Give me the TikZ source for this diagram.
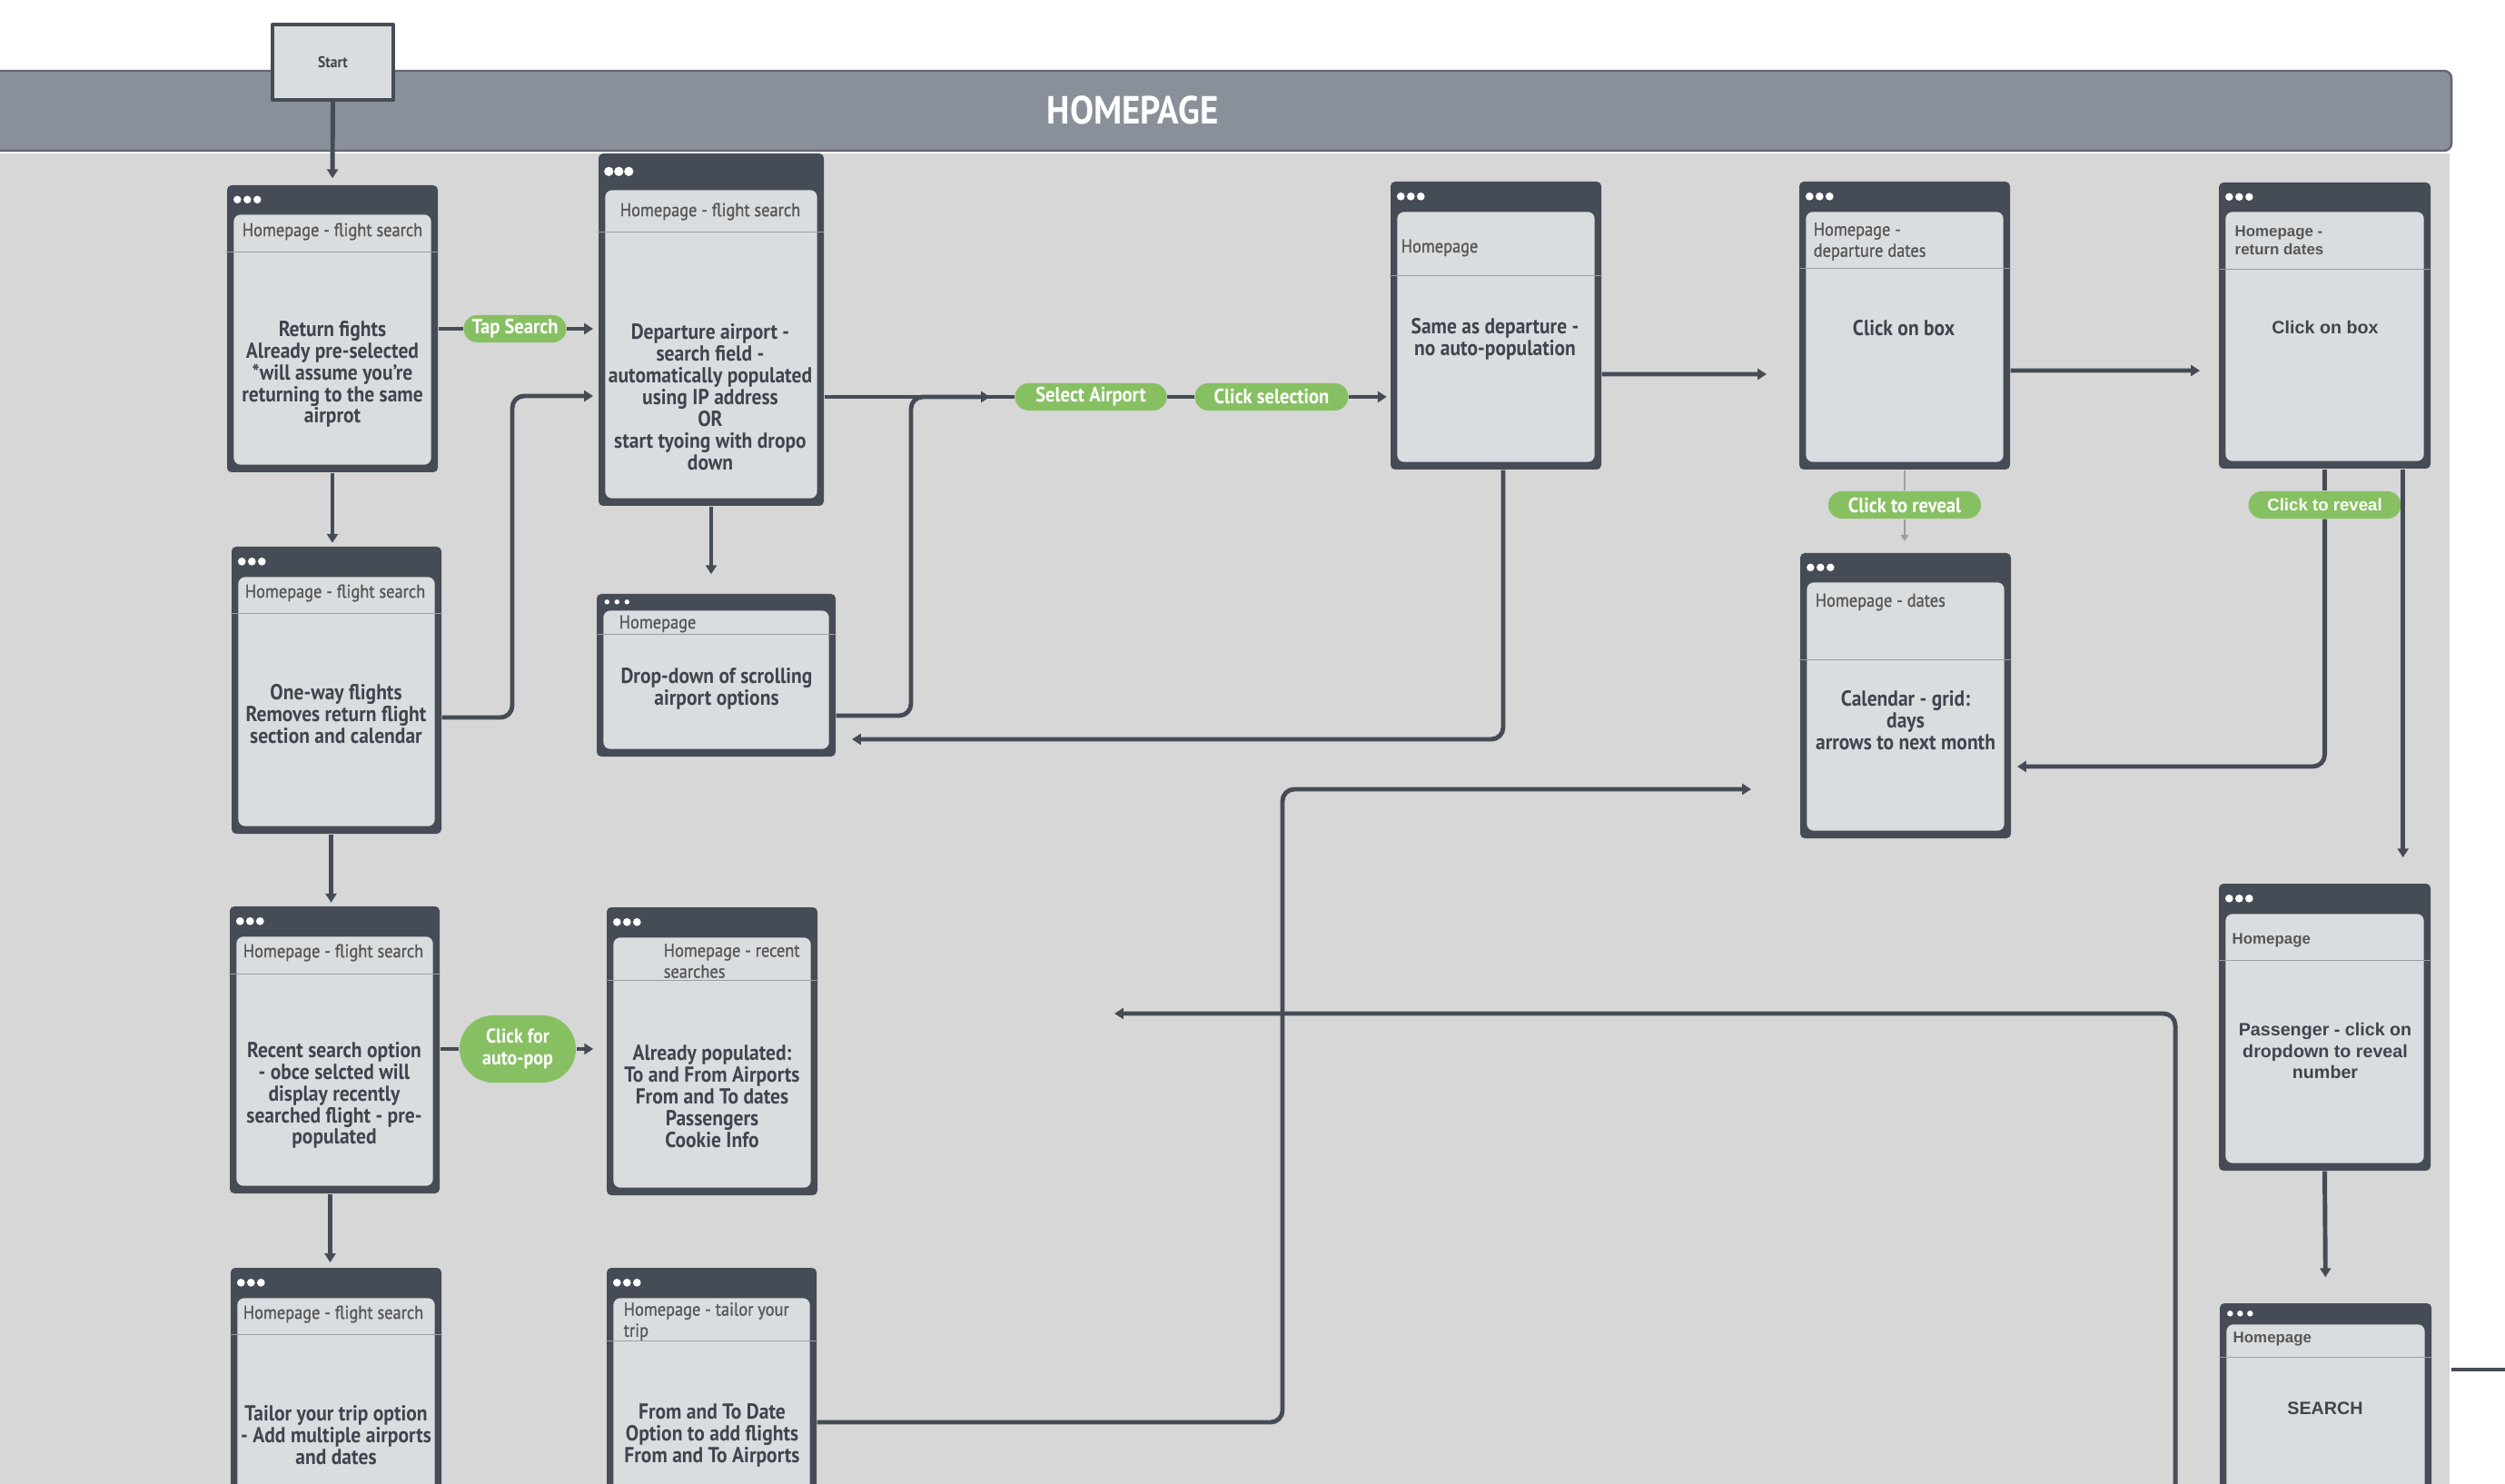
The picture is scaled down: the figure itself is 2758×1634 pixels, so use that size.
\documentclass[tikz,border=0pt]{standalone}
\usepackage{fontspec}
\newfontfamily\rob[FakeStretch=0.9]{PT Sans}
\newfontfamily\robm[FakeStretch=0.9,FakeBold=1]{PT Sans}
\newfontfamily\ari{Liberation Sans}
\usetikzlibrary{arrows.meta,calc,fit,shapes.misc}
\definecolor{dkcol}{HTML}{464C56}
\definecolor{panelcol}{HTML}{DADDE0}
\definecolor{lanecol}{HTML}{D7D7D7}
\definecolor{barcol}{HTML}{8A9099}
\definecolor{barline}{HTML}{626771}
\definecolor{txtcol}{HTML}{3F454E}
\definecolor{hdrcol}{HTML}{575757}
\definecolor{sepcol}{HTML}{9A9DA2}
\definecolor{pillcol}{HTML}{87C062}
\newcommand{\screen}[5]{%
	\node[frame, fit={#2 #3}] (#1) {};
	\fill[panel] ($(#1.north west)+(8,#4)$) rectangle ($(#1.south east)+(-8,-9)$);
	\pgfmathsetmacro\dotr{(0.6+0.11*#4)*0.2845}
	\foreach \i in {0,1,2}\fill[white] ($(#1.north west)+(12+11*\i,#4/2)$) circle[radius=\dotr pt];
	\draw[sepline] ($(#1.north west)+(0,#5)$) -- ($(#1.north east)+(0,#5)$);
}
\begin{document}
\begin{tikzpicture}[x=0.01cm, y=-0.01cm, line join=round, >={Triangle[length=2.8pt,width=3.4pt]},
	frame/.style={fill=dkcol, rounded corners=1.4pt, inner sep=0pt},
	panel/.style={fill=panelcol, rounded corners=2.2pt},
	sepline/.style={draw=sepcol, line width=0.35pt},
	hdr/.style={font=\robm\fontsize{5.8}{6.6}\selectfont, text=hdrcol, inner sep=0pt, align=left},
	hdrA/.style={font=\ari\bfseries\fontsize{4.8}{5.7}\selectfont, text=hdrcol, inner sep=0pt, align=left},
	body/.style={font=\rob\bfseries\fontsize{6.8}{6.8}\selectfont, text=txtcol, inner sep=0pt, align=center},
	bodyA/.style={font=\ari\bfseries\fontsize{5.6}{6.7}\selectfont, text=txtcol, inner sep=0pt, align=center},
	pill/.style={rounded rectangle, fill=pillcol, text=white, font=\rob\bfseries\fontsize{6.5}{6.8}\selectfont, minimum height=0.3cm, inner sep=0pt},
	startbox/.style={draw=dkcol, line width=1.1pt, fill=panelcol, minimum width=1.33cm, minimum height=0.83cm, font=\rob\bfseries\fontsize{4.9}{5}\selectfont, text=txtcol},
	bar/.style={fill=barcol, draw=barline, line width=0.7pt, rounded corners=2.3pt},
	link/.style={draw=dkcol, line width=1.4pt},
	thinlink/.style={draw=sepcol, line width=0.5pt, >={Triangle[length=2pt,width=2.4pt]}}]
	\useasboundingbox (0,0) rectangle (2758,1634);
	\clip (0,0) rectangle (2758,1634);
	\fill[white] (0,0) rectangle (2758,1634);
	\fill[lanecol] (0,169) rectangle (2697,1634);
	\draw[bar] (-30,78) rectangle (2699,166);
	\node[font=\rob\bfseries\fontsize{12.3}{13}\selectfont, text=white] (hp) at (1247,121) {HOMEPAGE};
	\node[startbox] (start) at (366.5,68.5) {Start};
	
	\screen{ret}{(250,204)}{(482,520)}{33}{74}
	\node[hdr] (ret-h) at (366,255) {Homepage - flight search};
	\node[body] (ret-b) at (366,412) {Return fights\\Already pre-selected\\*will assume you’re\\returning to the same\\airprot};
	\screen{dep}{(659,169)}{(907,557)}{41}{87}
	\node[hdr] (dep-h) at (782,233) {Homepage - flight search};
	\node[body] (dep-b) at (782,437) {Departure airport -\\search field -\\automatically populated\\using IP address\\OR\\start tyoing with dropo\\down};
	\screen{oneway}{(255,602)}{(486,918)}{34}{74}
	\node[hdr] (oneway-h) at (369,653) {Homepage - flight search};
	\node[body] (oneway-b) at (370,786) {One-way flights\\Removes return flight\\section and calendar};
	\screen{drop}{(657,654)}{(920,833)}{19}{45}
	\node[hdr, anchor=west] (drop-h) at (681,687) {Homepage};
	\node[body] (drop-b) at (789,758) {Drop-down of scrolling\\airport options};
	\screen{same}{(1531,200)}{(1763,517)}{34}{104}
	\node[hdr, anchor=west] (same-h) at (1542,273) {Homepage};
	\node[body] (same-b) at (1646,373) {Same as departure -\\no auto-population};
	\screen{depdates}{(1981,200)}{(2213,517)}{34}{96}
	\node[hdr, anchor=west] (depdates-h) at (1996,266) {Homepage -\\departure dates};
	\node[body] (depdates-b) at (2096,361) {Click on box};
	\screen{dates}{(1982,609)}{(2214,923)}{33}{118}
	\node[hdr, anchor=west] (dates-h) at (1998,663) {Homepage - dates};
	\node[body] (dates-b) at (2098,793) {Calendar - grid:\\days\\arrows to next month};
	\screen{retdates}{(2443,201)}{(2676,516)}{33}{96}
	\node[hdrA, anchor=west] (retdates-h) at (2460,265) {Homepage -\\return dates};
	\node[bodyA] (retdates-b) at (2560,360) {Click on box};
	\screen{pass}{(2443,973)}{(2676,1289)}{34}{85}
	\node[hdrA, anchor=west] (pass-h) at (2457,1035) {Homepage};
	\node[bodyA] (pass-b) at (2560,1157) {Passenger - click on\\dropdown to reveal\\number};
	\screen{srch}{(2444,1435)}{(2677,1720)}{24}{60}
	\node[hdrA, anchor=west] (srch-h) at (2458,1474) {Homepage};
	\node[bodyA] (srch-b) at (2560,1551) {SEARCH};
	\screen{recent}{(253,998)}{(484,1314)}{34}{75}
	\node[hdr] (recent-h) at (367,1049) {Homepage - flight search};
	\node[body] (recent-b) at (368,1206) {Recent search option\\- obce selcted will\\display recently\\searched flight - pre-\\populated};
	\screen{recres}{(668,999)}{(900,1316)}{34}{81}
	\node[hdr, anchor=west] (recres-h) at (730,1058) {Homepage - recent\\searches};
	\node[body] (recres-b) at (784,1207) {Already populated:\\To and From Airports\\From and To dates\\Passengers\\Cookie Info};
	\screen{tailor}{(254,1396)}{(486,1720)}{34}{74}
	\node[hdr] (tailor-h) at (367,1447) {Homepage - flight search};
	\node[body] (tailor-b) at (370,1580) {Tailor your trip option\\- Add multiple airports\\and dates};
	\screen{tailres}{(668,1396)}{(899,1720)}{34}{81}
	\node[hdr, anchor=west] (tailres-h) at (686,1455) {Homepage - tailor your\\trip};
	\node[body] (tailres-b) at (784,1580) {From and To Date\\Option to add flights\\From and To Airports};
	
	\node[pill, minimum width=1.13cm] (tap) at (567,362) {Tap Search};
	\node[pill, minimum width=1.67cm] (selap) at (1201,437) {Select Airport};
	\node[pill, minimum width=1.69cm] (clicksel) at (1400,437) {Click selection};
	\node[pill, minimum width=1.68cm] (reveal1) at (2097,556) {Click to reveal};
	\node[pill, minimum width=1.68cm, font=\ari\bfseries\fontsize{5.3}{6}\selectfont] (reveal2) at (2559.5,556) {Click to reveal};
	\node[pill, minimum width=1.28cm, minimum height=0.74cm, align=center, font=\rob\bfseries\fontsize{6.3}{6.8}\selectfont] (autopop) at (570,1155) {Click for\\auto-pop};
	
	\coordinate (j1) at (1090,437);
	\coordinate (d1) at (938,814);
	\coordinate (e1) at (1945,412);
	\coordinate (e2) at (2422,408);
	\coordinate (e3) at (1928,869);
	\coordinate (e4) at (1227,1116);
	\coordinate (e6) at (2221,844);
	\coordinate (s1) at (2395,1720);
	\coordinate (s2) at (2699,1508);
	\coordinate (e5) at (2770,1508);
	
	\draw[link,->,shorten >=2pt] (start.south) -- (ret.north);
	\draw[link] (ret.east |- tap.west) -- (tap.west);
	\draw[link,->,shorten >=1.5pt] (tap.east) -- (dep.west |- tap.east);
	\draw[link,->,shorten >=1pt] (ret.south) -- (ret.south |- oneway.north);
	\draw[link,->,rounded corners=0.13cm,shorten >=1.5pt] ([yshift=-0.3cm]oneway.east) -| (564,436) -- (dep.west |- 0,436);
	\draw[link,->,shorten >=6pt] (dep.south) -- (dep.south |- drop.north);
	\draw[link] (dep.east |- selap.west) -- (selap.west);
	\draw[link,->,rounded corners=0.13cm] ([yshift=-0.445cm]drop.east) -| (1003,437) -- (j1);
	\draw[link] (selap.east) -- (clicksel.west);
	\draw[link,->,shorten >=1pt] (clicksel.east) -- (same.west |- clicksel.east);
	\draw[link,->,rounded corners=0.13cm] ([xshift=0.08cm]same.south) |- (d1);
	\draw[link,->] ([yshift=-0.535cm]same.east) -- (e1);
	\draw[link,->] ([yshift=-0.495cm]depdates.east) -- (e2);
	\draw[thinlink] (depdates.south) -- (reveal1.north);
	\draw[thinlink,->,shorten >=3.5pt] (reveal1.south) -- (reveal1.south |- dates.north);
	\draw[link] (retdates.south) -- (reveal2.north);
	\draw[link,->,rounded corners=0.13cm] (reveal2.south) |- (e6);
	\draw[link,->,shorten >=8pt] ([xshift=-0.31cm]retdates.south east) -- ([xshift=-0.31cm]pass.north east);
	\draw[link,->,shorten >=8pt] (pass.south) -- (srch.north);
	\draw[link,->,shorten >=1pt] ([xshift=-0.06cm]oneway.south) -- ([xshift=-0.06cm]oneway.south |- recent.north);
	\draw[link] (recent.east |- autopop.west) -- (autopop.west);
	\draw[link,->,shorten >=4pt] (autopop.east) -- (recres.west |- autopop.east);
	\draw[link,->,shorten >=1.5pt] ([xshift=-0.05cm]recent.south) -- ([xshift=-0.05cm]recent.south |- tailor.north);
	\draw[link,->,rounded corners=0.13cm] ([yshift=-0.08cm]tailres.east) -| (1412,869) -- (e3);
	\draw[link,->,rounded corners=0.13cm] (s1) |- (e4);
	\draw[link] (s2) -- (e5);
\end{tikzpicture}
\end{document}
